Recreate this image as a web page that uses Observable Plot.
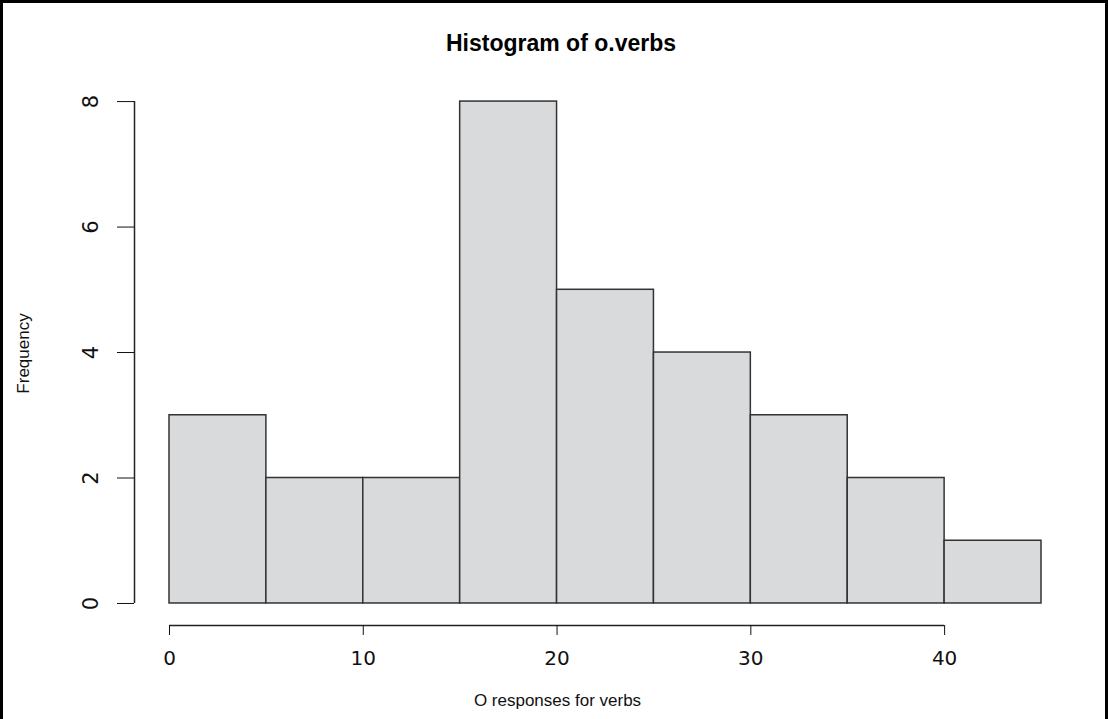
<!DOCTYPE html>
<html><head><meta charset="utf-8">
<script src="https://cdn.jsdelivr.net/npm/d3@7"></script>
<script src="https://cdn.jsdelivr.net/npm/@observablehq/plot@0.6"></script>
<style>
body{margin:0;background:#fff;}
#wrap{width:1108px;height:719px;box-sizing:border-box;border:3px solid #000;border-bottom:none;overflow:hidden;background:#fff;}
#title{height:67px;box-sizing:border-box;padding-top:28px;text-align:center;font:bold 23px "Liberation Sans",Arial,sans-serif;line-height:24px;color:#000;position:relative;left:7px;}
#chart svg{display:block;}
</style></head>
<body><div id="wrap"><div id="title"></div><div id="chart"></div></div>
<script>
const title = "Histogram of o.verbs";
const xLabel = "O responses for verbs";
const yLabel = "Frequency";
const binStart = [0, 5, 10, 15, 20, 25, 30, 35, 40];
const binEnd = [5, 10, 15, 20, 25, 30, 35, 40, 45];
const counts = [3, 2, 2, 8, 5, 4, 3, 2, 1];
const xTicks = [0, 10, 20, 30, 40];
const yTicks = [0, 2, 4, 6, 8];

const data = binStart.map((s, i) => ({x1: s, x2: binEnd[i], count: counts[i]}));
const xDomain = [-1.806, 46.806];
const yDomain = [-0.351, 8.32];

document.getElementById("title").textContent = title;

const plot = Plot.plot({
  width: 1102, height: 649,
  marginLeft: 131, marginRight: 29, marginTop: 11, marginBottom: 94,
  x: {domain: xDomain},
  y: {domain: yDomain},
  style: {background: "transparent", fontFamily: "'Liberation Sans', Arial, sans-serif", color: "#111"},
  marks: [
    Plot.rectY(data, {x1: "x1", x2: "x2", y1: d => 0, y2: "count", fill: "#d9dadb", stroke: "#333", strokeWidth: 1.5}),
    Plot.ruleX([xDomain[0]], {y1: d => yTicks[0], y2: d => yTicks[yTicks.length - 1], stroke: "#222", strokeWidth: 1.5}),
    Plot.ruleY([yDomain[0]], {x1: d => xTicks[0], x2: d => xTicks[xTicks.length - 1], stroke: "#222", strokeWidth: 1.5}),
    Plot.axisX(xTicks, {anchor: "bottom", tickSize: 10, tickPadding: 15, tickFormat: d => String(d), fontSize: 20, fontFamily: "DejaVu Sans", label: null}),
    Plot.axisY(yTicks, {anchor: "left", tickSize: 17, tickPadding: 20, tickRotate: -90, tickFormat: d => String(d), fontSize: 21, fontFamily: "DejaVu Sans", label: null}),
    Plot.text([yLabel], {frameAnchor: "left", textAnchor: "middle", lineAnchor: "middle", dx: -111, rotate: -90, fontSize: 17, fill: "#111"}),
    Plot.text([xLabel], {frameAnchor: "bottom", textAnchor: "middle", lineAnchor: "bottom", dx: -48, dy: 80, fontSize: 17, fill: "#111"})
  ]
});
document.getElementById("chart").appendChild(plot);
</script>
</body></html>
